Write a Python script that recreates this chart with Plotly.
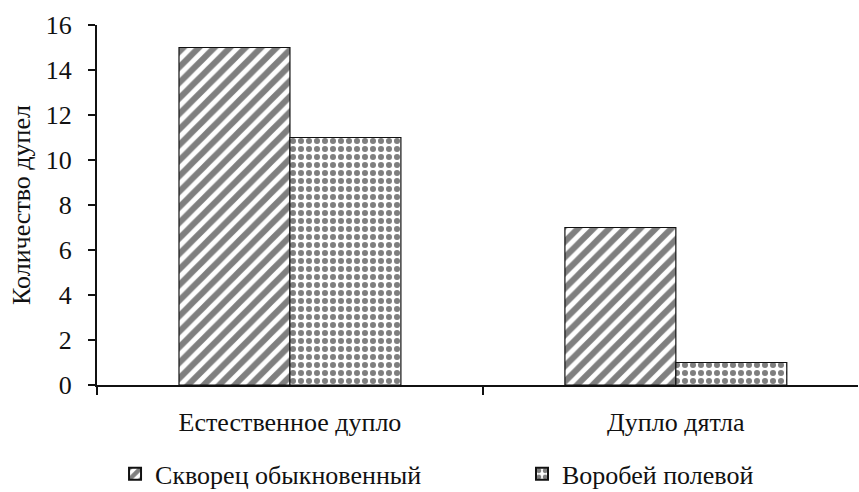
import plotly.graph_objects as go

categories = ["Естественное дупло", "Дупло дятла"]
starling = [15, 7]
sparrow = [11, 1]
series_names = ["Скворец обыкновенный", "Воробей полевой"]
y_ticks = [0, 2, 4, 6, 8, 10, 12, 14, 16]

FONT = "Times New Roman"
INK = "#111111"
FS = 26

fig = go.Figure()
fig.add_trace(go.Bar(
    x=categories, y=starling, name=series_names[0], legend="legend",
    marker=dict(color="white", line=dict(color=INK, width=1.2),
                pattern=dict(shape="/", fgcolor="black", bgcolor="white",
                             size=11, solidity=0.55, fillmode="overlay")),
))
fig.add_trace(go.Bar(
    x=categories, y=sparrow, name=series_names[1], legend="legend2",
    marker=dict(color="white", line=dict(color=INK, width=1.2),
                pattern=dict(shape=".", fgcolor="black", bgcolor="white",
                             size=8, solidity=0.45, fillmode="overlay")),
))

legend_style = dict(orientation="h", xanchor="left", y=-0.247, yanchor="middle",
                    font=dict(family=FONT, size=FS, color=INK),
                    itemsizing="constant", bgcolor="rgba(0,0,0,0)")

fig.update_layout(
    width=859, height=492,
    margin=dict(l=97, r=1, t=25, b=107, autoexpand=False),
    paper_bgcolor="white", plot_bgcolor="white",
    barmode="group", bargap=0.425, bargroupgap=0,
    font=dict(family=FONT, color=INK, size=FS),
    showlegend=True,
    legend=dict(x=0.0237, **legend_style),
    legend2=dict(x=0.5585, **legend_style),
)
fig.update_xaxes(
    range=[-0.5, 1.472], showline=True, linecolor=INK, linewidth=2,
    ticks="outside", tickson="boundaries", ticklen=8, tickwidth=2, tickcolor=INK,
    showgrid=False, zeroline=False, ticklabelstandoff=13,
    tickfont=dict(family=FONT, size=FS, color=INK),
)
fig.update_yaxes(
    range=[0, 16], tickvals=y_ticks, showline=True, linecolor=INK, linewidth=2,
    ticks="outside", ticklen=7, tickwidth=2, tickcolor=INK,
    showgrid=False, zeroline=False, ticklabelstandoff=11,
    tickfont=dict(family=FONT, size=FS, color=INK),
    title=dict(text="Количество дупел", font=dict(family=FONT, size=FS, color=INK), standoff=8),
)

fig.write_html("out.html")
